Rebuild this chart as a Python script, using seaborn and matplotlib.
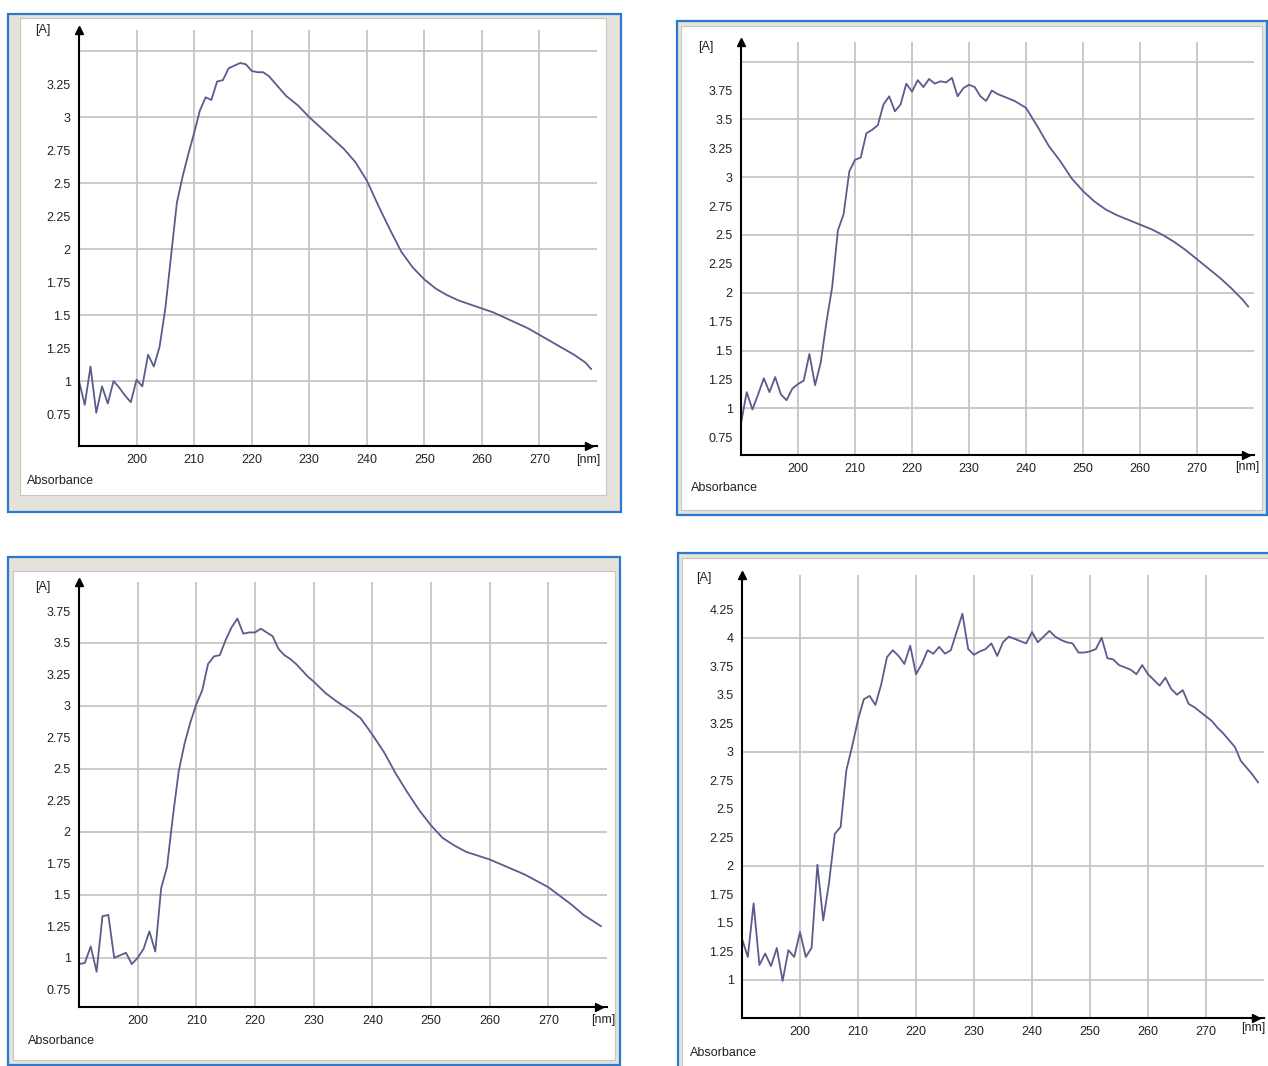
import matplotlib
matplotlib.use('Agg')
import numpy as np
import pandas as pd
import seaborn as sns
from matplotlib import pyplot as plt
from matplotlib.patches import Rectangle
from matplotlib.ticker import FixedLocator, FuncFormatter

# absorbance spectra
nm_1 = [190, 191, 192, 193, 194, 195, 196, 197, 198, 199,
        200, 201, 202, 203, 204, 205, 206, 207, 208, 209,
        210, 211, 212, 213, 214, 215, 216, 217, 218, 219,
        220, 221, 222, 223, 224, 226, 228, 230, 232, 234,
        236, 238, 240, 242, 244, 246, 248, 250, 252, 254,
        256, 258, 260, 262, 264, 266, 268, 270, 272, 274,
        276, 278, 279]
abs_1 = [1.00, 0.82, 1.11, 0.76, 0.96, 0.83, 1.00, 0.95, 0.89, 0.84,
         1.01, 0.96, 1.20, 1.11, 1.26, 1.55, 1.95, 2.35, 2.55, 2.72,
         2.88, 3.05, 3.15, 3.13, 3.27, 3.28, 3.37, 3.39, 3.41, 3.40,
         3.35, 3.34, 3.34, 3.31, 3.26, 3.16, 3.09, 3.00, 2.92, 2.84,
         2.76, 2.66, 2.52, 2.33, 2.15, 1.98, 1.86, 1.77, 1.70, 1.65,
         1.61, 1.58, 1.55, 1.52, 1.48, 1.44, 1.40, 1.35, 1.30, 1.25,
         1.20, 1.14, 1.09]

nm_2 = [190, 191, 192, 193, 194, 195, 196, 197, 198, 199,
        200, 201, 202, 203, 204, 205, 206, 207, 208, 209,
        210, 211, 212, 213, 214, 215, 216, 217, 218, 219,
        220, 221, 222, 223, 224, 225, 226, 227, 228, 229,
        230, 231, 232, 233, 234, 235, 236, 237, 238, 239,
        240, 242, 244, 246, 248, 250, 252, 254, 256, 258,
        260, 262, 264, 266, 268, 270, 272, 274, 276, 278,
        279]
abs_2 = [0.87, 1.14, 0.99, 1.12, 1.26, 1.14, 1.27, 1.12, 1.07, 1.17,
         1.21, 1.24, 1.47, 1.20, 1.40, 1.75, 2.05, 2.54, 2.68, 3.05,
         3.15, 3.17, 3.38, 3.41, 3.45, 3.63, 3.70, 3.57, 3.63, 3.81,
         3.74, 3.84, 3.78, 3.85, 3.81, 3.83, 3.82, 3.86, 3.70, 3.77,
         3.80, 3.78, 3.70, 3.66, 3.75, 3.72, 3.70, 3.68, 3.66, 3.63,
         3.60, 3.44, 3.27, 3.14, 2.99, 2.88, 2.79, 2.72, 2.67, 2.63,
         2.59, 2.55, 2.50, 2.44, 2.37, 2.29, 2.21, 2.13, 2.04, 1.94,
         1.88]

nm_3 = [190, 191, 192, 193, 194, 195, 196, 197, 198, 199,
        200, 201, 202, 203, 204, 205, 206, 207, 208, 209,
        210, 211, 212, 213, 214, 215, 216, 217, 218, 219,
        220, 221, 222, 223, 224, 225, 226, 227, 228, 229,
        230, 232, 234, 236, 238, 240, 242, 244, 246, 248,
        250, 252, 254, 256, 258, 260, 262, 264, 266, 268,
        270, 272, 274, 276, 278, 279]
abs_3 = [0.95, 0.96, 1.09, 0.89, 1.33, 1.34, 1.00, 1.02, 1.04, 0.95,
         1.00, 1.07, 1.21, 1.05, 1.55, 1.72, 2.12, 2.48, 2.70, 2.87,
         3.01, 3.12, 3.33, 3.39, 3.40, 3.52, 3.62, 3.69, 3.57, 3.58,
         3.58, 3.61, 3.58, 3.55, 3.45, 3.40, 3.37, 3.33, 3.28, 3.23,
         3.19, 3.10, 3.03, 2.97, 2.90, 2.77, 2.63, 2.46, 2.31, 2.17,
         2.05, 1.95, 1.89, 1.84, 1.81, 1.78, 1.74, 1.70, 1.66, 1.61,
         1.56, 1.49, 1.42, 1.34, 1.28, 1.25]

nm_4 = [190, 191, 192, 193, 194, 195, 196, 197, 198, 199,
        200, 201, 202, 203, 204, 205, 206, 207, 208, 209,
        210, 211, 212, 213, 214, 215, 216, 217, 218, 219,
        220, 221, 222, 223, 224, 225, 226, 227, 228, 229,
        230, 231, 232, 233, 234, 235, 236, 237, 238, 239,
        240, 241, 242, 243, 244, 245, 246, 247, 248, 249,
        250, 251, 252, 253, 254, 255, 256, 257, 258, 259,
        260, 261, 262, 263, 264, 265, 266, 267, 268, 269,
        270, 271, 272, 273, 274, 275, 276, 277, 278, 279]
abs_4 = [1.36, 1.20, 1.67, 1.13, 1.23, 1.12, 1.28, 0.99, 1.26, 1.20,
         1.42, 1.20, 1.28, 2.01, 1.52, 1.85, 2.28, 2.34, 2.84, 3.05,
         3.28, 3.46, 3.49, 3.41, 3.59, 3.83, 3.89, 3.84, 3.77, 3.93,
         3.68, 3.77, 3.89, 3.86, 3.92, 3.86, 3.89, 4.05, 4.21, 3.90,
         3.85, 3.88, 3.90, 3.95, 3.84, 3.96, 4.01, 3.99, 3.97, 3.95,
         4.05, 3.96, 4.01, 4.06, 4.01, 3.98, 3.96, 3.95, 3.87, 3.87,
         3.88, 3.90, 4.00, 3.82, 3.81, 3.76, 3.74, 3.72, 3.68, 3.76,
         3.68, 3.63, 3.58, 3.65, 3.55, 3.50, 3.54, 3.42, 3.39, 3.35,
         3.31, 3.27, 3.21, 3.16, 3.10, 3.04, 2.92, 2.86, 2.80, 2.73]

x_ticks = [200, 210, 220, 230, 240, 250, 260, 270]
y_ticks_1 = [0.75, 1, 1.25, 1.5, 1.75, 2, 2.25, 2.5, 2.75, 3, 3.25]
y_ticks_2 = [0.75, 1, 1.25, 1.5, 1.75, 2, 2.25, 2.5, 2.75, 3, 3.25, 3.5, 3.75]
y_ticks_3 = [0.75, 1, 1.25, 1.5, 1.75, 2, 2.25, 2.5, 2.75, 3, 3.25, 3.5, 3.75]
y_ticks_4 = [1, 1.25, 1.5, 1.75, 2, 2.25, 2.5, 2.75, 3, 3.25, 3.5, 3.75, 4, 4.25]
grid_y_1 = [1, 1.5, 2, 2.5, 3, 3.5]
grid_y_2 = [1, 1.5, 2, 2.5, 3, 3.5, 4]
grid_y_3 = [1, 1.5, 2, 2.5, 3, 3.5]
grid_y_4 = [1, 2, 3, 4]

W, H = 1268, 1066
LINE = '#5b5b8e'
GRID = '#c6c6c6'
BLUE = '#2b7ad0'
CHROME = '#e4e2da'

sns.set_style('white')
plt.rcParams['font.family'] = ['Liberation Sans', 'DejaVu Sans']

fig = plt.figure(figsize=(W / 100, H / 100), dpi=100)
fig.patch.set_facecolor('white')


def fig_rect(x0, y0, x1, y1, **kw):
    r = Rectangle((x0 / W, 1 - y1 / H), (x1 - x0) / W, (y1 - y0) / H,
                  transform=fig.transFigure, **kw)
    fig.add_artist(r)


def fig_text(x, y, s, **kw):
    fig.text(x / W, 1 - y / H, s, fontsize=9, color='#222222', **kw)


panels = [
    # data, axes box (px), ylim, ticks, grid, window, inner, text anchors
    dict(nm=nm_1, a=abs_1, box=(79, 30, 597, 446), ylim=(0.508, 3.66),
         yt=y_ticks_1, gy=grid_y_1, win=(8, 14, 621, 512), inner=(20, 18, 606, 495),
         A=(43, 30), unit=(588, 460), lab=(27, 481)),
    dict(nm=nm_2, a=abs_2, box=(741, 42, 1254, 455), ylim=(0.596, 4.17),
         yt=y_ticks_2, gy=grid_y_2, win=(677, 21, 1267, 515), inner=(681, 26, 1262, 510),
         A=(706, 47), unit=(1247, 467), lab=(691, 488)),
    dict(nm=nm_3, a=abs_3, box=(79, 582, 607, 1007), ylim=(0.61, 3.98),
         yt=y_ticks_3, gy=grid_y_3, win=(8, 557, 620, 1065), inner=(13, 571, 615, 1060),
         A=(43, 587), unit=(603, 1020), lab=(28, 1041)),
    dict(nm=nm_4, a=abs_4, box=(742, 575, 1264, 1018), ylim=(0.665, 4.55),
         yt=y_ticks_4, gy=grid_y_4, win=(678, 553, 1272, 1072), inner=(682, 558, 1272, 1072),
         A=(704, 578), unit=(1253, 1028), lab=(690, 1053)),
]

for p in panels:
    # window chrome of the screenshot
    fig_rect(*p['win'], facecolor=CHROME, edgecolor=BLUE, lw=1.6, zorder=-3)
    fig_rect(*p['inner'], facecolor='white', edgecolor='#c8c6be', lw=0.8, zorder=-2)

    x0, y0, x1, y1 = p['box']
    ax = fig.add_axes([x0 / W, 1 - y1 / H, (x1 - x0) / W, (y1 - y0) / H])
    ax.set_facecolor('none')

    df = pd.DataFrame({'nm': p['nm'], 'A': p['a']})
    sns.lineplot(data=df, x='nm', y='A', ax=ax, color=LINE, lw=1.3, zorder=3)

    ax.set_xlim(190, 280)
    ax.set_ylim(*p['ylim'])
    for gy in p['gy']:
        ax.axhline(gy, color=GRID, lw=1.3, zorder=1)
    ax.xaxis.set_major_locator(FixedLocator(x_ticks))
    ax.grid(axis='x', color=GRID, lw=1.3, zorder=1)
    ax.yaxis.set_major_locator(FixedLocator(p['yt']))
    ax.yaxis.set_major_formatter(FuncFormatter(lambda v, _: f'{v:g}'))
    ax.tick_params(axis='both', direction='out', length=3, width=1.3, color='black',
                   labelsize=9, labelcolor='#222222', pad=3)
    ax.set_xlabel('')
    ax.set_ylabel('')
    for s in ['top', 'right']:
        ax.spines[s].set_visible(False)
    for s in ['left', 'bottom']:
        ax.spines[s].set_linewidth(1.5)
        ax.spines[s].set_color('black')
        ax.spines[s].set_zorder(4)
    # axis arrows
    ax.plot([0], [1], marker='^', ms=6, color='black', transform=ax.transAxes,
            clip_on=False, zorder=5)
    ax.plot([0.985], [0], marker='>', ms=6, color='black', transform=ax.transAxes,
            clip_on=False, zorder=5)

    fig_text(*p['A'], '[A]', ha='center', va='center')
    fig_text(*p['unit'], '[nm]', ha='center', va='center')
    fig_text(*p['lab'], 'Absorbance', ha='left', va='center')

fig.savefig('out.png', dpi=100)
